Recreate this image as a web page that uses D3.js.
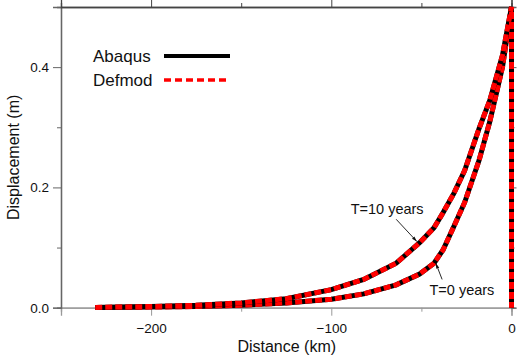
<!DOCTYPE html>
<html>
<head>
<meta charset="utf-8">
<script src="https://cdn.jsdelivr.net/npm/d3@7"></script>
<style>
  body { margin: 0; background: #fff; }
  text { font-family: "Liberation Sans", Arial, sans-serif; fill: #111; }
</style>
</head>
<body>
<svg id="chart" width="519" height="362"></svg>
<script>
// distance from fault (km); last point drops down at the fault
var distance = [-231, -200, -175, -150, -125, -100, -82, -64, -51, -43, -38, -32, -26, -18, -12, -5, 0, 0];
// displacement (m)
var dispT0  = [0.0003, 0.001, 0.002, 0.004, 0.008, 0.014, 0.023, 0.038, 0.056, 0.074, 0.096, 0.135, 0.175, 0.245, 0.31, 0.40, 0.5, 0];
var dispT10 = [0.0005, 0.002, 0.004, 0.008, 0.015, 0.030, 0.047, 0.074, 0.108, 0.133, 0.158, 0.19, 0.228, 0.298, 0.345, 0.42, 0.5, 0];
var xMajor = [-200, -100, 0], xMinor = [-150, -50];
var yMajor = [0, 0.2, 0.4], yMinor = [0.1, 0.3];
var seriesNames = ["Abaqus", "Defmod"];

var margin = {top: 7, right: 7.5, bottom: 54.3, left: 61},
    width = 519 - margin.left - margin.right,
    height = 362 - margin.top - margin.bottom;

var x = d3.scaleLinear().domain([-250, 0]).range([0, width]);
var y = d3.scaleLinear().domain([0, 0.5]).range([height, 0]);

var svg = d3.select("#chart");
var defs = svg.append("defs");
defs.append("marker")
    .attr("id", "arrow")
    .attr("viewBox", "0 0 10 10")
    .attr("refX", 10).attr("refY", 5)
    .attr("markerWidth", 6).attr("markerHeight", 6)
    .attr("orient", "auto")
  .append("path")
    .attr("d", "M0,2 L10,5 L0,8 z")
    .attr("fill", "#111");

var chart = svg.append("g")
    .attr("transform", "translate(" + margin.left + "," + margin.top + ")");

function styleAxis(g, col) {
  g.selectAll(".domain").attr("stroke", col).attr("stroke-width", 1.3);
  g.selectAll(".tick line").attr("stroke", col).attr("stroke-width", 1);
  g.selectAll("text").style("font-size", "13.5px").attr("fill", "#222");
}

// bottom
chart.append("g").attr("transform", "translate(0," + height + ")")
    .call(d3.axisBottom(x).tickValues(xMajor).tickSize(8).tickPadding(8).tickFormat(d3.format("d")))
    .call(styleAxis, "#999");
chart.append("g").attr("transform", "translate(0," + height + ")")
    .call(d3.axisBottom(x).tickValues(xMinor).tickSize(4).tickFormat(""))
    .call(styleAxis, "#999");
// left
chart.append("g")
    .call(d3.axisLeft(y).tickValues(yMajor).tickSize(8).tickPadding(4).tickFormat(d3.format(".1f")))
    .call(styleAxis, "#666");
chart.append("g")
    .call(d3.axisLeft(y).tickValues(yMinor).tickSize(4).tickFormat(""))
    .call(styleAxis, "#666");
// top
chart.append("g")
    .call(d3.axisTop(x).tickValues(xMajor).tickSize(7).tickFormat(""))
    .call(styleAxis, "#444");
chart.append("g")
    .call(d3.axisTop(x).tickValues(xMinor).tickSize(4).tickFormat(""))
    .call(styleAxis, "#444");
// right
chart.append("g").attr("transform", "translate(" + width + ",0)")
    .call(d3.axisRight(y).tickValues(yMajor).tickSize(5).tickFormat(""))
    .call(styleAxis, "#666");
chart.append("g").attr("transform", "translate(" + width + ",0)")
    .call(d3.axisRight(y).tickValues(yMinor).tickSize(3).tickFormat(""))
    .call(styleAxis, "#666");

// axis titles
svg.append("text")
    .attr("x", margin.left + x(-125) + 0.5).attr("y", 352)
    .attr("text-anchor", "middle").style("font-size", "16px")
    .text("Distance (km)");
svg.append("text")
    .attr("transform", "translate(19," + (margin.top + height / 2) + ") rotate(-90)")
    .attr("text-anchor", "middle").style("font-size", "16px")
    .text("Displacement (m)");

// curves
var line = d3.line()
    .x(function(d) { return x(d[0]); })
    .y(function(d) { return y(d[1]); });

[dispT0, dispT10].forEach(function(vals) {
  var pts = distance.map(function(d, i) { return [d, vals[i]]; });
  chart.append("path").datum(pts)
      .attr("d", line).attr("fill", "none")
      .attr("stroke", "#000").attr("stroke-width", 5);
  chart.append("path").datum(pts)
      .attr("d", line).attr("fill", "none")
      .attr("stroke", "#f00").attr("stroke-width", 5)
      .attr("stroke-dasharray", "7,3");
});

// annotations
chart.append("text")
    .attr("x", x(-69)).attr("y", y(0.155))
    .attr("text-anchor", "middle").style("font-size", "14.5px")
    .text("T=10 years");
chart.append("line")
    .attr("x1", x(-64)).attr("y1", y(0.147))
    .attr("x2", x(-52.5)).attr("y2", y(0.11))
    .attr("stroke", "#111").attr("stroke-width", 0.9)
    .attr("marker-end", "url(#arrow)");
chart.append("text")
    .attr("x", x(-27.5)).attr("y", y(0.021))
    .attr("text-anchor", "middle").style("font-size", "14.5px")
    .text("T=0 years");
chart.append("line")
    .attr("x1", x(-38.5)).attr("y1", y(0.047))
    .attr("x2", x(-42)).attr("y2", y(0.074))
    .attr("stroke", "#111").attr("stroke-width", 0.9)
    .attr("marker-end", "url(#arrow)");

// legend
var legend = chart.append("g").attr("transform", "translate(32,49)");
seriesNames.forEach(function(name, i) {
  var g = legend.append("g").attr("transform", "translate(0," + (i * 24) + ")");
  g.append("text").attr("x", 0).attr("y", 5.5)
      .style("font-size", "17px").text(name);
  g.append("line").attr("x1", 71).attr("x2", 137)
      .attr("y1", 0).attr("y2", 0)
      .attr("stroke", i === 0 ? "#000" : "#f00")
      .attr("stroke-width", i === 0 ? 4 : 3.5)
      .attr("stroke-dasharray", i === 0 ? null : "7,4");
});
</script>
</body>
</html>
